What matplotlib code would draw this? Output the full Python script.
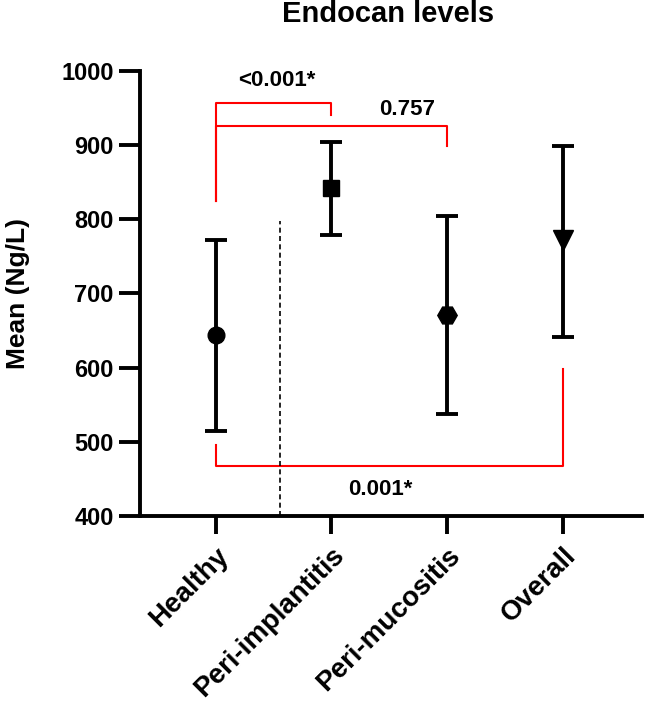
import numpy as np
import matplotlib.pyplot as plt

plt.rcParams['font.family'] = ['Liberation Sans', 'DejaVu Sans']
plt.rcParams['font.weight'] = 'bold'

groups = ['Healthy', 'Peri-implantitis', 'Peri-mucositis', 'Overall']
means = [644, 842, 671, 772]
upper = [772, 904, 804, 899]
lower = [515, 779, 538, 641]
markers = ['o', 's', 'H', 'v']
msizes = [12, 12, 14, 14]

# significance brackets: (x1, x2, y_bar, y_left_end, y_right_end)
brackets = [(0, 1, 957, 825, 941),
            (0, 2, 925, 825, 898),
            (0, 3, 467, 496, 598)]
p_labels = ['<0.001*', '0.757', '0.001*']
p_pos = [(0.53, 987), (1.65, 948), (1.42, 435)]

fig = plt.figure(figsize=(6.46, 7.01), dpi=100)
ax = fig.add_axes([0.217, 0.264, 0.777, 0.635])

x = np.arange(len(groups))
for i in range(len(groups)):
    ax.errorbar(x[i], means[i],
                yerr=[[means[i] - lower[i]], [upper[i] - means[i]]],
                fmt=markers[i], color='black', ms=msizes[i],
                elinewidth=2.8, capsize=8, capthick=2.8)

for (x1, x2, yb, yl, yr) in brackets:
    ax.plot([x1, x1, x2, x2], [yl, yb, yb, yr], color='red', lw=1.5)

for lab, (px, py) in zip(p_labels, p_pos):
    ax.text(px, py, lab, ha='center', va='center', fontsize=16,
            fontweight='bold')

ax.plot([0.56, 0.56], [400, 797], color='black', lw=1.2, ls=(0, (3, 2)))

ax.set_xlim(-0.65, 3.68)
ax.set_ylim(400, 1000)
ax.set_yticks(range(400, 1001, 100))
ax.set_xticks(x)
ax.set_xticklabels(groups, rotation=45, ha='right', rotation_mode='anchor',
                   fontsize=20, fontweight='bold')
ax.tick_params(axis='y', labelsize=17, width=2.8, length=15, pad=4)
ax.tick_params(axis='x', width=2.8, length=13, pad=6)
for lab in ax.get_yticklabels():
    lab.set_fontweight('bold')

for s in ['top', 'right']:
    ax.spines[s].set_visible(False)
for s in ['left', 'bottom']:
    ax.spines[s].set_linewidth(2.8)

ax.set_ylabel('Mean (Ng/L)', fontsize=19, fontweight='bold')
ax.yaxis.set_label_coords(-0.22, 0.5)
fig.text(388 / 646, 1 - 14 / 701, 'Endocan levels', ha='center', va='center',
         fontsize=21, fontweight='bold')

plt.savefig('out.png', dpi=100)
